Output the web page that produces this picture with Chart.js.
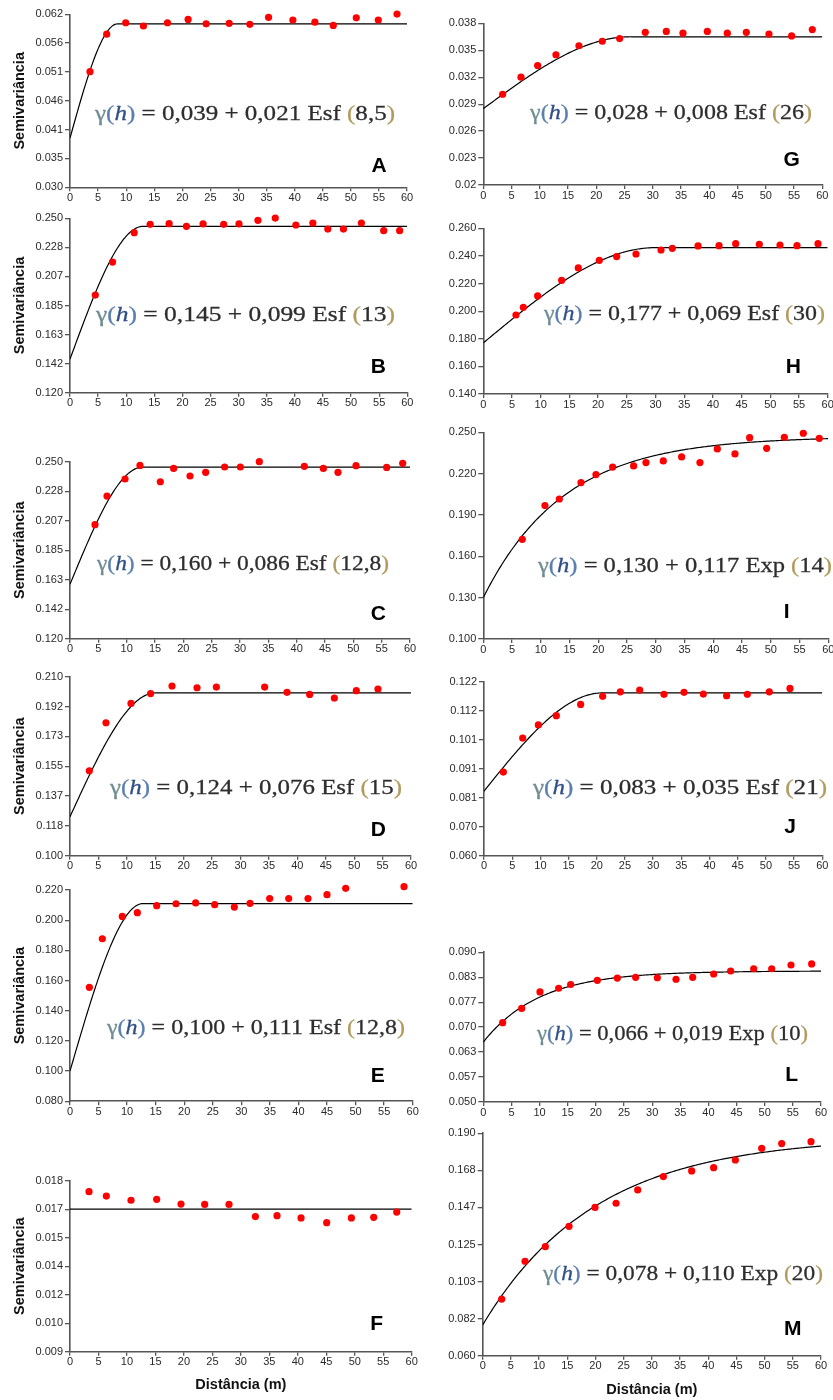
<!DOCTYPE html>
<html>
<head>
<meta charset="utf-8">
<script src="https://cdn.jsdelivr.net/npm/chart.js@4.4.1/dist/chart.umd.min.js"></script>
<style>
  html, body { margin: 0; padding: 0; background: #fff; }
  #page { position: relative; width: 833px; height: 1400px; overflow: hidden; background: #fff; }
  #page canvas { position: absolute; }
  .eq { position: absolute; font-family: "Liberation Serif", "DejaVu Serif", serif; font-size: 22px;
        color: #2e2e2e; white-space: nowrap; line-height: 1; transform-origin: 0 50%;
        -webkit-text-stroke: 0.3px currentColor; }
  .eq .gm { color: #6f8c93; }
  .eq .pb { color: #5a7fae; }
  .eq .hv { color: #2f4f86; font-style: italic; }
  .eq .pg { color: #b09a5e; }
  .tag { position: absolute; font-family: "Liberation Sans", Arial, sans-serif; font-weight: bold;
         font-size: 21px; color: #000; line-height: 1; transform: translate(-50%, -50%); }
</style>
</head>
<body>
<div id="page"></div>
<script>
// ---- Semivariogram data: lag distance (m) and experimental semivariance ----
const distA = [3.56, 6.53, 9.92, 13.07, 17.35, 21.03, 24.24, 28.34, 32.02, 35.35, 39.68, 43.60, 46.87, 50.97, 54.89, 58.22];
const semA  = [0.0512, 0.0581, 0.0602, 0.0596, 0.0602, 0.0608, 0.0600, 0.0601, 0.0599, 0.0612, 0.0607, 0.0603, 0.0597, 0.0611, 0.0607, 0.0618];

const distG = [3.42, 6.67, 9.62, 12.86, 16.93, 21.06, 24.13, 28.67, 32.39, 35.34, 39.65, 43.19, 46.55, 50.56, 54.57, 58.23];
const semG  = [0.0296, 0.0315, 0.0328, 0.0340, 0.0350, 0.0355, 0.0358, 0.0365, 0.0366, 0.0364, 0.0366, 0.0364, 0.0365, 0.0363, 0.0361, 0.0368];

const distB = [4.50, 7.57, 11.42, 14.26, 17.63, 20.71, 23.67, 27.34, 30.06, 33.43, 36.51, 40.18, 43.20, 45.86, 48.64, 51.83, 55.80, 58.64];
const semB  = [0.1928, 0.2174, 0.2393, 0.2455, 0.2460, 0.2440, 0.2458, 0.2455, 0.2458, 0.2485, 0.2502, 0.2450, 0.2465, 0.2420, 0.2420, 0.2465, 0.2408, 0.2408];

const distH = [5.69, 6.97, 9.47, 13.65, 16.55, 20.21, 23.23, 26.60, 30.96, 32.93, 37.41, 41.07, 43.97, 48.09, 51.69, 54.65, 58.31];
const semH  = [0.1972, 0.2028, 0.2110, 0.2223, 0.2313, 0.2368, 0.2395, 0.2414, 0.2443, 0.2455, 0.2472, 0.2474, 0.2489, 0.2484, 0.2479, 0.2474, 0.2489];

const distC = [4.41, 6.53, 9.71, 12.35, 15.94, 18.29, 21.18, 23.94, 27.29, 30.06, 33.41, 41.35, 44.71, 47.29, 50.47, 55.88, 58.71];
const semC  = [0.2038, 0.2248, 0.2373, 0.2473, 0.2353, 0.2451, 0.2395, 0.2422, 0.2461, 0.2461, 0.2500, 0.2466, 0.2451, 0.2422, 0.2471, 0.2458, 0.2488];

const distI = [6.78, 10.72, 13.22, 16.99, 19.59, 22.49, 26.14, 28.29, 31.30, 34.49, 37.68, 40.70, 43.77, 46.32, 49.28, 52.35, 55.65, 58.43];
const semI  = [0.1723, 0.1968, 0.2016, 0.2135, 0.2193, 0.2248, 0.2256, 0.2280, 0.2292, 0.2321, 0.2280, 0.2379, 0.2343, 0.2461, 0.2384, 0.2464, 0.2493, 0.2456];

const distD = [3.40, 6.33, 10.73, 14.19, 17.95, 22.35, 25.75, 34.25, 38.18, 42.17, 46.51, 50.38, 54.19];
const semD  = [0.1522, 0.1817, 0.1936, 0.1996, 0.2043, 0.2032, 0.2036, 0.2036, 0.2004, 0.1991, 0.1969, 0.2014, 0.2024];

const distJ = [3.43, 6.86, 9.64, 12.83, 17.14, 21.04, 24.18, 27.61, 31.92, 35.47, 38.90, 43.03, 46.70, 50.60, 54.27];
const semJ  = [0.0898, 0.1019, 0.1066, 0.1099, 0.1139, 0.1168, 0.1184, 0.1190, 0.1175, 0.1182, 0.1176, 0.1170, 0.1175, 0.1184, 0.1196];

const distE = [3.39, 5.66, 9.16, 11.79, 15.18, 18.56, 22.00, 25.33, 28.77, 31.52, 34.96, 38.29, 41.67, 45.00, 48.27, 51.65, 55.04, 58.48];
const semE  = [0.1555, 0.1877, 0.2025, 0.2050, 0.2096, 0.2109, 0.2114, 0.2103, 0.2087, 0.2112, 0.2143, 0.2143, 0.2143, 0.2169, 0.2211, 0.2231, 0.2231, 0.2222];

const distL = [3.44, 6.81, 10.07, 13.39, 15.52, 20.26, 23.81, 27.07, 30.92, 34.24, 37.20, 40.93, 43.95, 48.04, 51.24, 54.67, 58.34];
const semL  = [0.0712, 0.0750, 0.0794, 0.0804, 0.0814, 0.0825, 0.0831, 0.0833, 0.0832, 0.0828, 0.0833, 0.0842, 0.0850, 0.0856, 0.0856, 0.0866, 0.0869];

const distF = [3.34, 6.38, 10.71, 15.22, 19.49, 23.65, 27.92, 32.55, 36.35, 40.57, 45.07, 49.41, 53.33, 57.37];
const semF  = [0.01742, 0.01719, 0.01697, 0.01702, 0.01677, 0.01675, 0.01675, 0.01611, 0.01616, 0.01604, 0.01579, 0.01604, 0.01607, 0.01635];

const distM = [3.37, 7.51, 11.11, 15.31, 19.92, 23.65, 27.49, 32.04, 37.06, 40.96, 44.81, 49.48, 53.03, 58.23];
const semM  = [0.0931, 0.1152, 0.1237, 0.1356, 0.1467, 0.1491, 0.1569, 0.1647, 0.1680, 0.1699, 0.1744, 0.1812, 0.1840, 0.1851];

// ---- Fitted models: [type, nugget C0, contribution C1, range a] ----
const modelA = ['Esf', 0.039, 0.021, 8.5];
const modelG = ['Esf', 0.028, 0.008, 26];
const modelB = ['Esf', 0.145, 0.099, 13];
const modelH = ['Esf', 0.177, 0.069, 30];
const modelC = ['Esf', 0.160, 0.086, 12.8];
const modelI = ['Exp', 0.130, 0.117, 14];
const modelD = ['Esf', 0.124, 0.076, 15];
const modelJ = ['Esf', 0.083, 0.035, 21];
const modelE = ['Esf', 0.100, 0.111, 12.8];
const modelL = ['Exp', 0.066, 0.019, 10];
const modelF = ['EPP', 0.0165, 0, 0];      // pure nugget effect
const modelM = ['Exp', 0.078, 0.110, 20];

// ---- Y axis ranges and tick labels (bottom to top) ----
const axisA = [0.02995, 0.06175]; const tickA = ['0.030', '0.035', '0.041', '0.046', '0.051', '0.056', '0.062'];
const axisG = [0.0195, 0.0375];   const tickG = ['0.02', '0.023', '0.026', '0.029', '0.032', '0.035', '0.038'];
const axisB = [0.120, 0.250];     const tickB = ['0.120', '0.142', '0.163', '0.185', '0.207', '0.228', '0.250'];
const axisH = [0.140, 0.260];     const tickH = ['0.140', '0.160', '0.180', '0.200', '0.220', '0.240', '0.260'];
const axisC = [0.120, 0.250];     const tickC = ['0.120', '0.142', '0.163', '0.185', '0.207', '0.228', '0.250'];
const axisI = [0.100, 0.250];     const tickI = ['0.100', '0.130', '0.160', '0.190', '0.220', '0.250'];
const axisD = [0.100, 0.210];     const tickD = ['0.100', '0.118', '0.137', '0.155', '0.173', '0.192', '0.210'];
const axisJ = [0.060, 0.122];     const tickJ = ['0.060', '0.070', '0.081', '0.091', '0.101', '0.112', '0.122'];
const axisE = [0.080, 0.220];     const tickE = ['0.080', '0.100', '0.120', '0.140', '0.160', '0.180', '0.200', '0.220'];
const axisL = [0.050, 0.090];     const tickL = ['0.050', '0.057', '0.063', '0.070', '0.077', '0.083', '0.090'];
const axisF = [0.009, 0.018];     const tickF = ['0.009', '0.010', '0.012', '0.014', '0.015', '0.017', '0.018'];
const axisM = [0.060, 0.190];     const tickM = ['0.060', '0.082', '0.103', '0.125', '0.147', '0.168', '0.190'];

const distTicks = [0, 60, 5];   // x axis: min, max, step

const panels = [
  { id: 'A', dist: distA, sem: semA, model: modelA, axis: axisA, ticks: tickA },
  { id: 'G', dist: distG, sem: semG, model: modelG, axis: axisG, ticks: tickG },
  { id: 'B', dist: distB, sem: semB, model: modelB, axis: axisB, ticks: tickB },
  { id: 'H', dist: distH, sem: semH, model: modelH, axis: axisH, ticks: tickH },
  { id: 'C', dist: distC, sem: semC, model: modelC, axis: axisC, ticks: tickC },
  { id: 'I', dist: distI, sem: semI, model: modelI, axis: axisI, ticks: tickI },
  { id: 'D', dist: distD, sem: semD, model: modelD, axis: axisD, ticks: tickD },
  { id: 'J', dist: distJ, sem: semJ, model: modelJ, axis: axisJ, ticks: tickJ },
  { id: 'E', dist: distE, sem: semE, model: modelE, axis: axisE, ticks: tickE },
  { id: 'L', dist: distL, sem: semL, model: modelL, axis: axisL, ticks: tickL },
  { id: 'F', dist: distF, sem: semF, model: modelF, axis: axisF, ticks: tickF },
  { id: 'M', dist: distM, sem: semM, model: modelM, axis: axisM, ticks: tickM }
];

// ---- Page layout: plot-area box (px), equation [left, centreY, width], panel letter [cx, cy] ----
const frames = {
  A: { col: 0, L: 70,    R: 407,   T: 14.3,   B: 187.3,  eq: [95, 113.3, 300],    tag: [379, 164] },
  G: { col: 1, L: 483.3, R: 822.3, T: 23.3,   B: 185,    eq: [530, 111.7, 282],   tag: [791.7, 158.3] },
  B: { col: 0, L: 70,    R: 407.3, T: 218.3,  B: 392.7,  eq: [96, 314.3, 299],    tag: [378.3, 365] },
  H: { col: 1, L: 483.3, R: 827.7, T: 228.3,  B: 394,    eq: [544.3, 313.3, 281], tag: [793.3, 365] },
  C: { col: 0, L: 70,    R: 410,   T: 461.7,  B: 638.8,  eq: [96.7, 563.3, 292],  tag: [378.3, 611.7] },
  I: { col: 1, L: 483.3, R: 828.3, T: 432.3,  B: 639,    eq: [538.3, 565, 294],   tag: [786.7, 610] },
  D: { col: 0, L: 70,    R: 411,   T: 676.7,  B: 855.7,  eq: [110, 786.7, 292],   tag: [378.3, 828.3] },
  J: { col: 1, L: 484,   R: 822.3, T: 681.7,  B: 855.7,  eq: [533.3, 786.7, 294], tag: [790, 825] },
  E: { col: 0, L: 70,    R: 412.7, T: 890,    B: 1101.2, eq: [106.7, 1026.7, 298], tag: [377.7, 1074.3] },
  L: { col: 1, L: 483.3, R: 821,   T: 952.3,  B: 1102,   eq: [537.3, 1033.3, 271], tag: [791.7, 1073.3] },
  F: { col: 0, L: 70,    R: 411.7, T: 1180.7, B: 1351.7, eq: null,                tag: [376.7, 1322.3], xh: 42 },
  M: { col: 1, L: 482.7, R: 821,   T: 1133.3, B: 1355.7, eq: [543.3, 1273.3, 280], tag: [792.7, 1326.7], xh: 43 }
};

const SANS = '"Liberation Sans", Arial, Helvetica, sans-serif';
const AXIS_COLOR = '#555';
const TEXT_COLOR = '#2a2a2a';

// Spherical, exponential and pure-nugget semivariogram models
function gammaModel(m, h) {
  const [type, c0, c1, a] = m;
  if (type === 'Esf') {
    if (h >= a) return c0 + c1;
    const r = h / a;
    return c0 + c1 * (1.5 * r - 0.5 * r * r * r);
  }
  if (type === 'Exp') return c0 + c1 * (1 - Math.exp(-h / a));
  return c0;
}

function modelCurve(m) {
  const pts = [];
  for (let i = 0; i <= 240; i++) {
    const h = i * 0.25;
    pts.push({ x: h, y: gammaModel(m, h) });
  }
  return pts;
}

function eqMarkup(m) {
  const f = v => v.toFixed(3).replace('.', ',');
  const r = String(m[3]).replace('.', ',');
  return '<span class="gm">\u03B3</span><span class="pb">(</span><span class="hv">h</span><span class="pb">)</span>' +
         ' = ' + f(m[1]) + ' + ' + f(m[2]) + ' ' + m[0] + ' <span class="pg">(</span>' + r + '<span class="pg">)</span>';
}

const page = document.getElementById('page');

function drawPanel(p, fr) {
  const left = fr.col === 0 ? 0 : 415;
  const top = Math.floor(fr.T - 12);
  const padTop = fr.T - top;
  const yw = fr.L - left;
  const xh = fr.xh || 22;
  const W = Math.ceil(fr.R - left + 14);
  const padRight = W - (fr.R - left);
  const H = Math.ceil(fr.B - fr.T + padTop + xh);
  const xHeight = H - padTop - (fr.B - fr.T);

  const cv = document.createElement('canvas');
  cv.width = W; cv.height = H;
  cv.style.left = left + 'px'; cv.style.top = top + 'px';
  cv.style.width = W + 'px'; cv.style.height = H + 'px';
  page.appendChild(cv);

  const [yMin, yMax] = p.axis;
  const nT = p.ticks.length;
  const showYTitle = fr.col === 0;
  const showXTitle = !!fr.xh;

  new Chart(cv, {
    type: 'scatter',
    data: {
      datasets: [
        {
          type: 'line',
          data: modelCurve(p.model),
          borderColor: '#000',
          borderWidth: 1.2,
          pointRadius: 0,
          fill: false,
          tension: 0,
          order: 2
        },
        {
          data: p.dist.map((d, i) => ({ x: d, y: p.sem[i] })),
          backgroundColor: '#ff0000',
          borderWidth: 0,
          pointRadius: 3.6,
          pointHoverRadius: 3.6,
          clip: false,
          order: 1
        }
      ]
    },
    options: {
      responsive: false,
      animation: false,
      devicePixelRatio: 1,
      events: [],
      layout: { padding: { top: padTop, right: padRight, left: 0, bottom: 0 } },
      plugins: { legend: { display: false }, tooltip: { enabled: false } },
      scales: {
        x: {
          type: 'linear',
          min: distTicks[0], max: distTicks[1],
          afterFit(s) { s.height = xHeight; },
          ticks: { stepSize: distTicks[2], autoSkip: false, maxRotation: 0, padding: 0,
                   color: TEXT_COLOR, font: { family: SANS, size: 11 } },
          grid: { display: true, drawOnChartArea: false, drawTicks: true, tickLength: 4,
                  color: AXIS_COLOR, lineWidth: 1.3 },
          border: { display: true, color: AXIS_COLOR, width: 1.6 },
          title: {
            display: showXTitle,
            text: 'Dist\u00E2ncia (m)',
            color: '#111',
            font: { family: SANS, size: 14.5, weight: 'bold' },
            padding: { top: 0, bottom: 0 }
          }
        },
        y: {
          type: 'linear',
          min: yMin, max: yMax,
          afterBuildTicks(s) {
            s.ticks = p.ticks.map((t, i) => ({ value: yMin + i * (yMax - yMin) / (nT - 1) }));
          },
          afterFit(s) { s.width = yw; },
          ticks: { callback: (v, i) => p.ticks[i], padding: 2,
                   color: TEXT_COLOR, font: { family: SANS, size: 11 } },
          grid: { display: true, drawOnChartArea: false, drawTicks: true, tickLength: 5,
                  color: AXIS_COLOR, lineWidth: 1.3 },
          border: { display: true, color: AXIS_COLOR, width: 1.6 },
          title: {
            display: showYTitle,
            text: 'Semivari\u00E2ncia',
            color: '#111',
            font: { family: SANS, size: 14.5, weight: 'bold' },
            padding: { top: 11, bottom: 0 }
          }
        }
      }
    }
  });

  if (fr.eq) {
    const el = document.createElement('div');
    el.className = 'eq';
    el.innerHTML = eqMarkup(p.model);
    el.style.left = fr.eq[0] + 'px';
    el.style.top = fr.eq[1] + 'px';
    page.appendChild(el);
    const w = el.getBoundingClientRect().width;
    el.style.transform = 'translateY(-50%) scaleX(' + (fr.eq[2] / w).toFixed(4) + ')';
  }

  const tag = document.createElement('div');
  tag.className = 'tag';
  tag.textContent = p.id;
  tag.style.left = fr.tag[0] + 'px';
  tag.style.top = fr.tag[1] + 'px';
  page.appendChild(tag);
}

panels.forEach(p => drawPanel(p, frames[p.id]));
</script>
</body>
</html>
